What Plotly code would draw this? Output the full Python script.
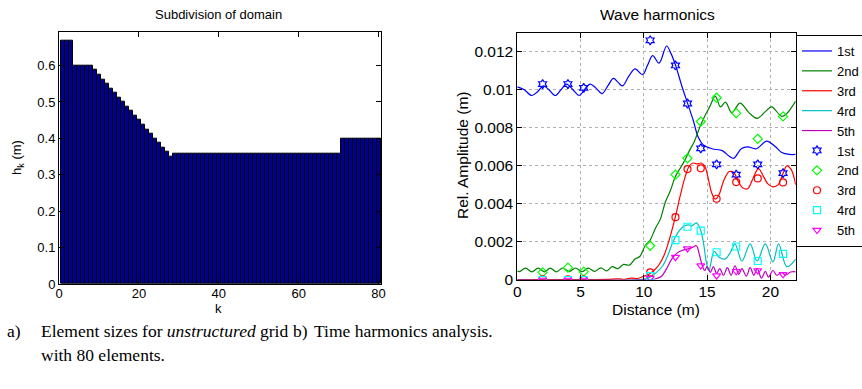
import plotly.graph_objects as go

W, H = 862, 389

# ---------------- Left chart data: element sizes ----------------
k_index = list(range(1, 81))
h_k = [0.667, 0.667, 0.667,
       0.600, 0.600, 0.600, 0.600, 0.600,
       0.5875, 0.575, 0.5625, 0.550, 0.5375, 0.525, 0.5125, 0.500, 0.4875, 0.475,
       0.4625, 0.450, 0.4375, 0.425, 0.4125, 0.400, 0.3875, 0.375, 0.3625, 0.350,
       0.357, 0.357, 0.357, 0.357, 0.357, 0.357, 0.357, 0.357, 0.357, 0.357,
       0.357, 0.357, 0.357, 0.357, 0.357, 0.357, 0.357, 0.357, 0.357, 0.357,
       0.357, 0.357, 0.357, 0.357, 0.357, 0.357, 0.357, 0.357, 0.357, 0.357,
       0.357, 0.357, 0.357, 0.357, 0.357, 0.357, 0.357, 0.357, 0.357, 0.357,
       0.357, 0.357,
       0.400, 0.400, 0.400, 0.400, 0.400, 0.400, 0.400, 0.400, 0.400, 0.400]
left_xticks = [0, 20, 40, 60, 80]
left_yticks = [0, 0.1, 0.2, 0.3, 0.4, 0.5, 0.6]
left_yticklabels = ["0", "0.1", "0.2", "0.3", "0.4", "0.5", "0.6"]

# ---------------- Right chart data: wave harmonics ----------------
h1_x = [0.0, 0.55, 1.15, 1.6, 2.05, 2.5, 3.0, 3.45, 3.9, 4.4, 4.9, 5.3, 5.75, 6.2, 6.7,
        7.15, 7.6, 7.95, 8.3, 8.8, 9.3, 9.9, 10.3, 10.7, 11.2, 11.8, 12.15, 12.5, 13.0,
        13.45, 13.9, 14.3, 14.7, 15.4, 16.2, 16.75, 17.1, 17.7, 18.2, 18.9, 19.7, 20.4,
        20.9, 21.5, 22.0]
h1_y = [0.01015, 0.0100, 0.0097, 0.0099, 0.0102, 0.0100, 0.0097, 0.0100, 0.0103, 0.0100,
        0.0097, 0.0100, 0.0103, 0.0101, 0.0098, 0.0102, 0.0106, 0.0104, 0.0102, 0.0107,
        0.0111, 0.0108, 0.0113, 0.0118, 0.0114, 0.0123, 0.0119, 0.0113, 0.0102, 0.0093,
        0.0084, 0.0075, 0.0071, 0.0069, 0.0068, 0.0065, 0.0064, 0.0069, 0.0070, 0.0069,
        0.0073, 0.0070, 0.0067, 0.0066, 0.0066]

h2_x = [0.0, 0.15, 0.65, 1.15, 1.65, 2.15, 2.6, 3.1, 3.6, 4.1, 4.6, 5.1, 5.6, 6.1, 6.6,
        7.05, 7.5, 7.95, 8.4, 8.85, 9.3, 9.7, 10.1, 10.5, 10.9, 11.3, 11.7, 12.1, 12.5,
        12.85, 13.2, 13.6, 14.0, 14.4, 14.8, 15.2, 15.65, 16.05, 16.45, 16.95, 17.6,
        18.3, 18.95, 19.6, 20.1, 20.9, 21.3, 22.0]
h2_y = [0.00047, 0.00044, 0.00062, 0.00043, 0.00062, 0.00043, 0.00062, 0.00043, 0.00063,
        0.00044, 0.00063, 0.00044, 0.00062, 0.00045, 0.00064, 0.00048, 0.00070, 0.00060,
        0.00082, 0.00078, 0.00110, 0.00125, 0.00180, 0.00210, 0.00270, 0.00320, 0.00410,
        0.00470, 0.00545, 0.00585, 0.00625, 0.00680, 0.00730, 0.00800, 0.00860, 0.00910,
        0.00965, 0.00910, 0.00935, 0.00880, 0.00930, 0.00880, 0.00850, 0.00885, 0.00910,
        0.00860, 0.00875, 0.00940]

h3_x = [0.0, 4.0, 7.0, 8.0, 8.5, 9.0, 9.5, 10.0, 10.4, 10.8, 11.2, 11.6, 12.0, 12.5,
        12.9, 13.3, 13.6, 13.9, 14.2, 14.5, 14.8, 15.1, 15.35, 15.65, 15.95, 16.3,
        16.75, 17.1, 17.45, 17.8, 18.2, 18.6, 19.05, 19.45, 19.8, 20.2, 20.6, 21.0,
        21.3, 21.65, 22.0]
h3_y = [0.00002, 0.00002, 0.00003, 0.00006, 0.00004, 0.00010, 0.00008, 0.00020, 0.00030,
        0.00050, 0.00080, 0.00130, 0.00210, 0.00335, 0.00450, 0.00550, 0.00600, 0.00615,
        0.00610, 0.00615, 0.00600, 0.00530, 0.00460, 0.00425, 0.00450, 0.00520, 0.00570,
        0.00565, 0.00520, 0.00485, 0.00480, 0.00530, 0.00585, 0.00545, 0.00505, 0.00490,
        0.00500, 0.00560, 0.00600, 0.00580, 0.00500]

h4_x = [0.0, 9.5, 10.0, 10.5, 11.0, 11.5, 11.9, 12.3, 12.7, 13.1, 13.5, 13.8, 14.15,
        14.45, 14.7, 14.95, 15.15, 15.55, 15.95, 16.4, 16.8, 17.2, 17.75, 18.4, 18.95,
        19.6, 20.2, 20.65, 21.3, 22.0]
h4_y = [0.0, 0.00001, 0.00005, 0.00015, 0.00040, 0.00075, 0.00130, 0.00200, 0.00250,
        0.00280, 0.00290, 0.00285, 0.00300, 0.00270, 0.00200, 0.00090, 0.00050, 0.00150,
        0.00120, 0.00110, 0.00140, 0.00190, 0.00100, 0.00190, 0.00100, 0.00190, 0.00095,
        0.00190, 0.00070, 0.00110]

h5_x = [0.0, 10.5, 11.0, 11.4, 11.8, 12.2, 12.6, 13.0, 13.4, 13.8, 14.15, 14.4, 14.6,
        14.8, 15.0, 15.25, 15.5, 15.75, 16.0, 16.3, 16.6, 16.9, 17.2, 17.5, 17.75, 18.1,
        18.4, 18.7, 18.95, 19.3, 19.6, 19.85, 20.2, 20.5, 20.9, 21.2, 21.6, 22.0]
h5_y = [0.0, 0.00002, 0.00008, 0.00020, 0.00060, 0.00110, 0.00140, 0.00155, 0.00162,
        0.00170, 0.00180, 0.00130, 0.00080, 0.00050, 0.00070, 0.00040, 0.00070, 0.00035,
        0.00060, 0.00025, 0.00065, 0.00025, 0.00075, 0.00030, 0.00060, 0.00020, 0.00065,
        0.00025, 0.00060, 0.00010, 0.00045, 0.00015, 0.00050, 0.00025, 0.00040, 0.00025,
        0.00042, 0.00043]

pts_x = [2.0, 4.0, 5.25, 10.5, 12.5, 13.45, 14.5, 15.75, 17.3, 19.0, 21.0]
pts1 = [0.0103, 0.0103, 0.0101, 0.0126, 0.01128, 0.00928, 0.00692, 0.00608, 0.00554, 0.00608, 0.00562]
pts2 = [0.0004, 0.00065, 0.00044, 0.0018, 0.00554, 0.0064, 0.00833, 0.00958, 0.00877, 0.00742, 0.0086]
pts3 = [0.00004, 0.00004, 0.00002, 0.0004, 0.0033, 0.00583, 0.00587, 0.00427, 0.00515, 0.00534, 0.00513]
pts4 = [0.0, 0.0, 0.0, 0.0002, 0.0021, 0.0028, 0.0026, 0.00146, 0.00176, 0.0010, 0.00137]
pts5 = [0.0, 0.0, 0.0, 0.0001, 0.0012, 0.00165, 0.00076, 0.00023, 0.00046, 0.0005, 0.0003]

right_xticks = [0, 5, 10, 15, 20]
right_yticks = [0, 0.002, 0.004, 0.006, 0.008, 0.010, 0.012]
right_yticklabels = ["0", "0.002", "0.004", "0.006", "0.008", "0.01", "0.012"]

harm_names = ["1st", "2nd", "3rd", "4rd", "5th"]
line_colors = ["#0000ff", "#008000", "#ff0000", "#00bfbf", "#bf00bf"]
marker_colors = ["#0000ff", "#00ff00", "#ff0000", "#00ffff", "#ff00ff"]
marker_symbols = ["hexagram-open", "diamond-open", "circle-open", "square-open", "triangle-down-open"]

# ---------------- Figure ----------------
fig = go.Figure()

fig.add_trace(go.Bar(x=k_index, y=h_k, xaxis="x", yaxis="y", showlegend=False,
                     marker=dict(color="#000090", line=dict(color="black", width=1))))

line_x = [h1_x, h2_x, h3_x, h4_x, h5_x]
line_y = [h1_y, h2_y, h3_y, h4_y, h5_y]
for i in range(5):
    fig.add_trace(go.Scatter(x=line_x[i], y=line_y[i], mode="lines", name=harm_names[i],
                             xaxis="x2", yaxis="y2",
                             line=dict(color=line_colors[i], width=1.2, shape="spline", smoothing=1.0)))
pts_y = [pts1, pts2, pts3, pts4, pts5]
for i in range(5):
    fig.add_trace(go.Scatter(x=pts_x, y=pts_y[i], mode="markers", name=harm_names[i],
                             xaxis="x2", yaxis="y2",
                             marker=dict(symbol=marker_symbols[i], color=marker_colors[i], size=7,
                                         line=dict(color=marker_colors[i], width=1.2))))

def px(x):
    return x / W

def py(y):
    return 1 - y / H

axis_common = dict(showline=True, linecolor="black", linewidth=1, mirror="ticks",
                   ticks="inside", ticklen=5, tickcolor="black", zeroline=False)

fig.update_layout(
    width=W, height=H,
    margin=dict(l=0, r=0, t=0, b=0, autoexpand=False),
    paper_bgcolor="white", plot_bgcolor="white",
    font=dict(family="Liberation Sans, Arial, sans-serif", color="black"),
    bargap=0,
    xaxis=dict(domain=[px(59), px(381)], range=[0, 80.6], tickmode="array",
               tickvals=left_xticks, ticktext=[str(v) for v in left_xticks],
               showgrid=False, anchor="y", tickfont=dict(size=13, color="black"),
               ticklabelstandoff=-3, **axis_common),
    yaxis=dict(domain=[py(284), py(31.7)], range=[0, 0.693], tickmode="array",
               tickvals=left_yticks, ticktext=left_yticklabels, showgrid=False, anchor="x",
               tickfont=dict(size=13, color="black"), **axis_common),
    xaxis2=dict(domain=[px(517.3), px(795.7)], range=[0, 22], tickmode="array",
                tickvals=right_xticks,
                showgrid=True, gridcolor="#b0b0b0", griddash="dot", gridwidth=1, anchor="y2",
                tickfont=dict(size=15.5, color="black"), ticklabelstandoff=-3, **axis_common),
    yaxis2=dict(domain=[py(280), py(32.7)], range=[0, 0.013], tickmode="array",
                tickvals=right_yticks, ticktext=right_yticklabels,
                showgrid=True, gridcolor="#b0b0b0", griddash="dot", gridwidth=1, anchor="x2",
                tickfont=dict(size=15.5, color="black"), **axis_common),
    legend=dict(x=px(796), y=py(35), xanchor="left", yanchor="top",
                bordercolor="black", borderwidth=1, bgcolor="white",
                font=dict(size=13, color="black"), tracegroupgap=0),
)

annos = [
    dict(text="Subdivision of domain", x=px(219), y=py(14), size=13, angle=0),
    dict(text="k", x=px(219), y=py(308), size=13, angle=0),
    dict(text="h<sub>k</sub> (m)", x=px(17), y=py(158), size=13, angle=-90),
    dict(text="Wave harmonics", x=px(657), y=py(14), size=15.5, angle=0),
    dict(text="Distance (m)", x=px(656), y=py(309), size=15.5, angle=0),
    dict(text="Rel. Amplitude (m)", x=px(462), y=py(156), size=15.5, angle=-90),
]
for a in annos:
    fig.add_annotation(text=a["text"], x=a["x"], y=a["y"], xref="paper", yref="paper",
                       showarrow=False, textangle=a["angle"], xanchor="center", yanchor="middle",
                       font=dict(size=a["size"], color="black"))

serif = "Liberation Serif, Times New Roman, serif"
captions = [
    ("a)", 5, 331),
    ("Element sizes for <i>unstructured</i> grid", 39, 331),
    ("b)", 291, 331),
    ("Time harmonics analysis.", 312, 331),
    ("with 80 elements.", 39, 355),
]
for text, cx, cy in captions:
    fig.add_annotation(text=text, x=px(cx), y=py(cy), xref="paper", yref="paper",
                       showarrow=False, xanchor="left", yanchor="middle",
                       font=dict(family=serif, size=17.5, color="black"))

fig.write_html("out.html")
